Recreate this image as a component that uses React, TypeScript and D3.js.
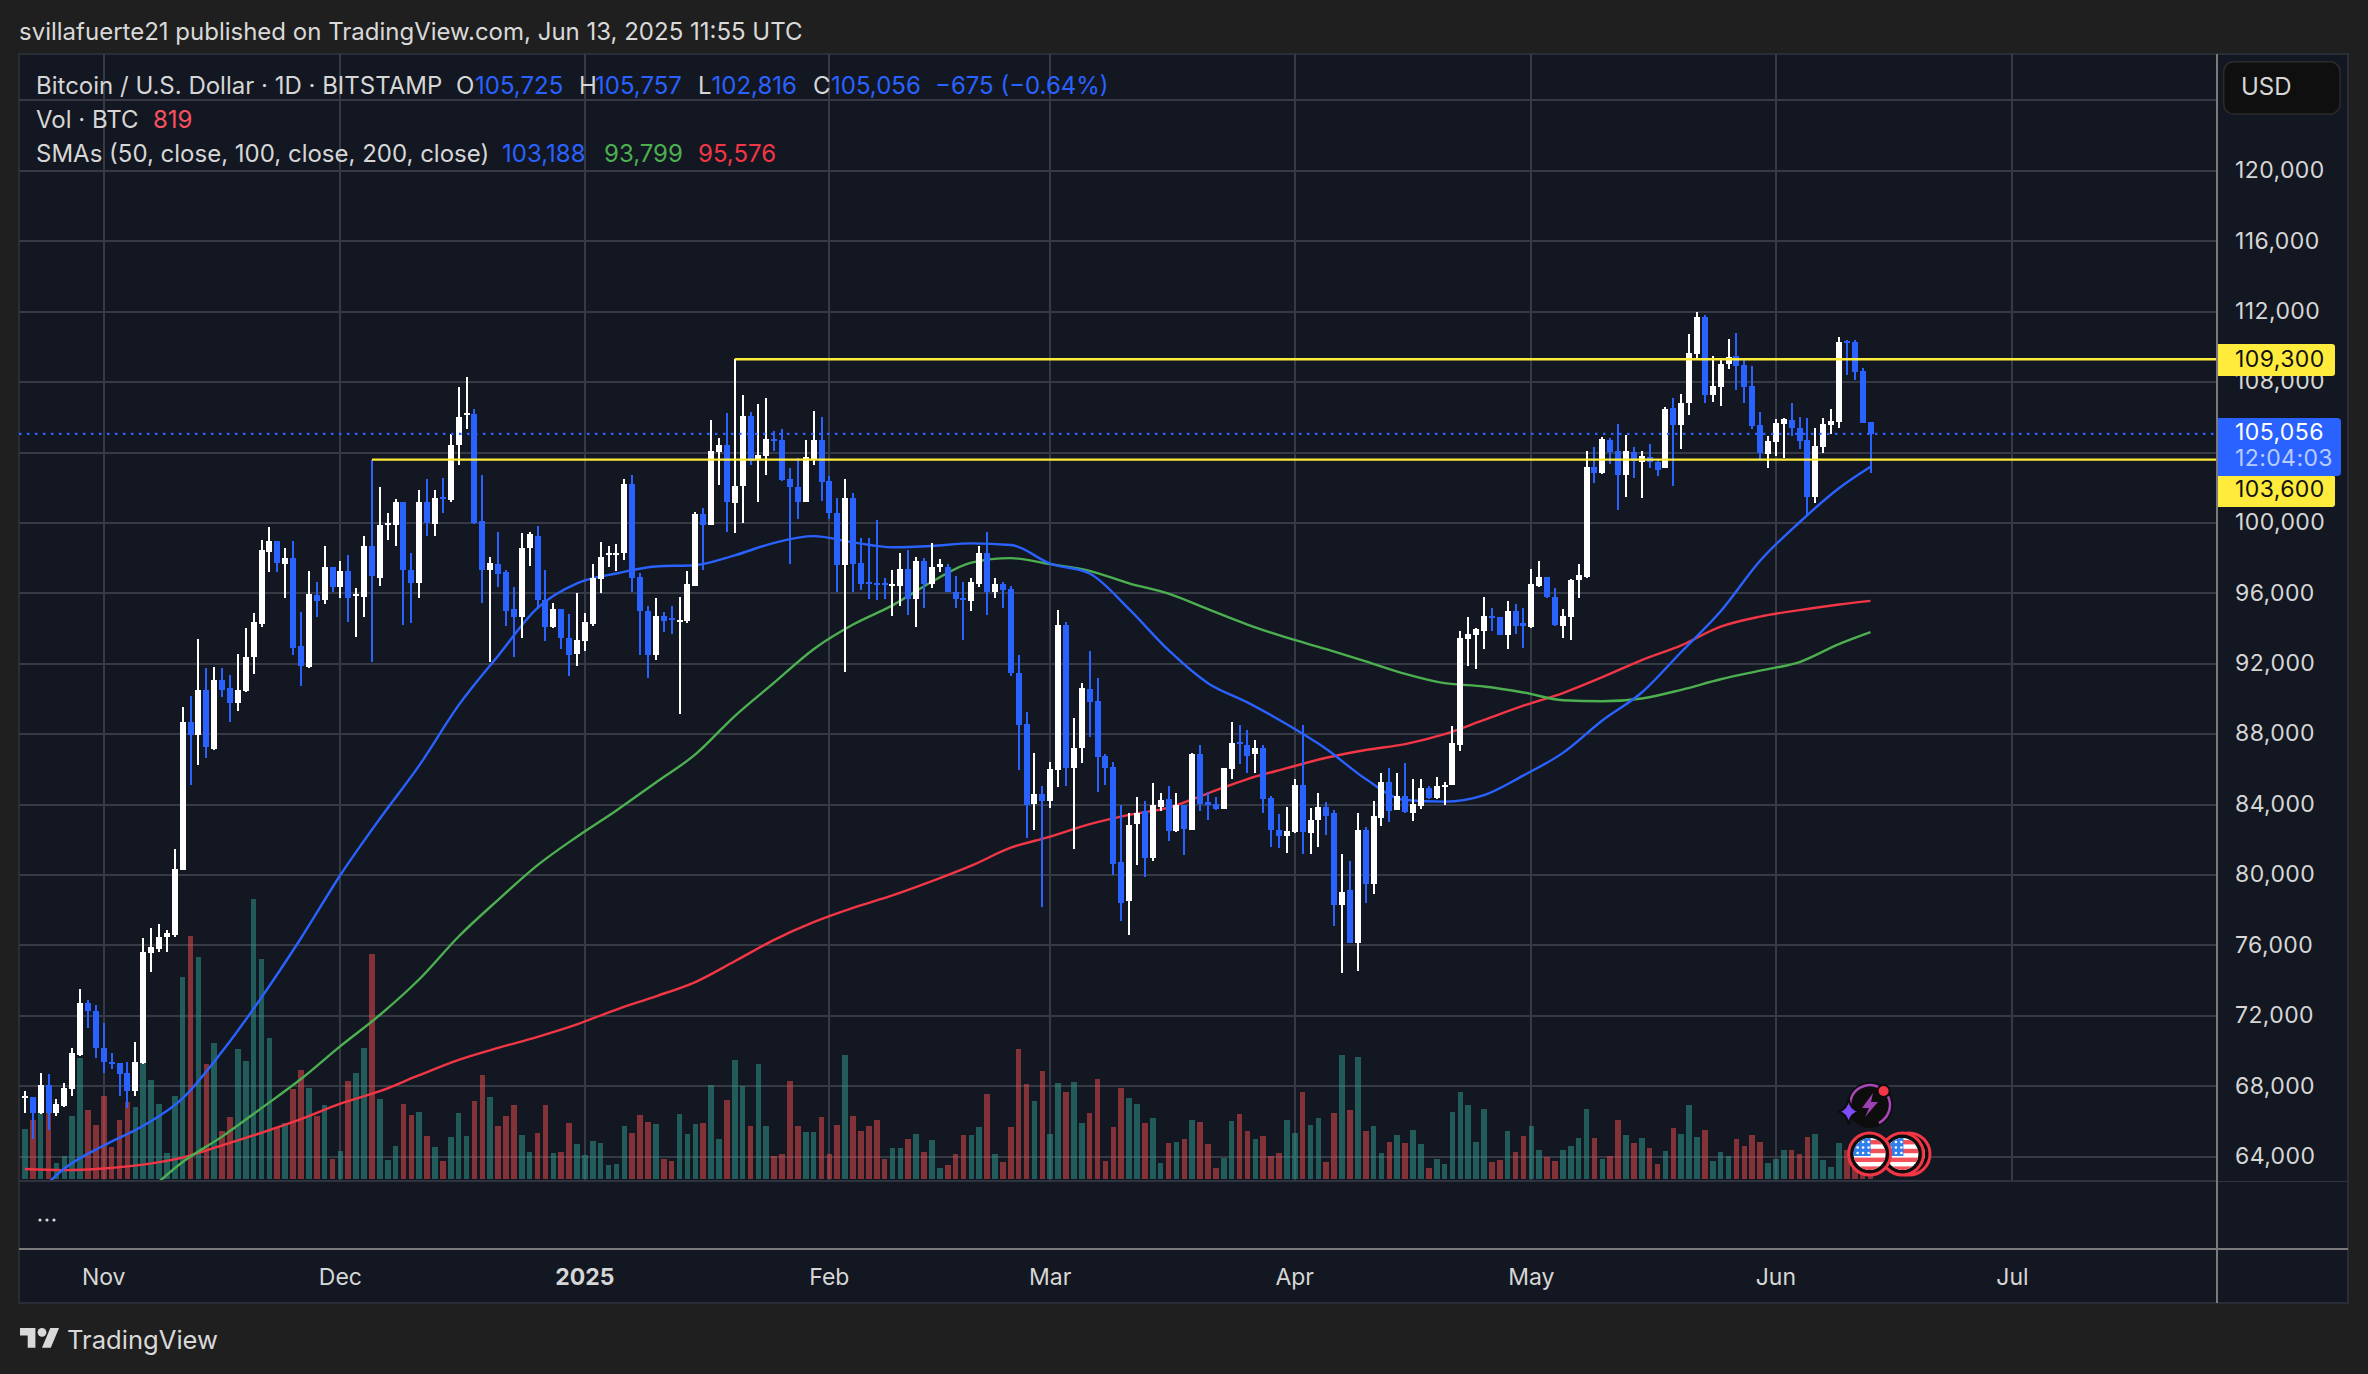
import React from 'react'
import * as d3 from 'd3'

// Daily BITSTAMP BTCUSD bars, first bar is Oct 22 2024, last is Jun 13 2025
const highs = [
  67754,67380,68750,68688,67286,68189,70184,73547,72893,72613,
  71585,69872,69311,69373,70495,76444,76974,77223,76880,81459,
  89559,90182,93421,91770,91833,91739,91366,92549,94013,94885,
  99059,99745,98966,98592,98966,94947,97284,96630,98686,97471,
  97813,98156,96287,99246,103576,102050,100555,101364,101178,98281,
  101894,102517,101894,102580,105072,107719,108280,106473,102704,98094,
  99464,97346,96381,99402,99464,99838,97315,95446,95103,94854,
  96038,94885,97689,98904,98686,98779,102486,102704,97159,95290,
  95727,94917,95290,95820,97284,100648,100835,105850,104822,106255,
  109300,107252,106318,106753,107096,105196,105352,103109,103701,104729,
  106349,106006,102673,101396,102486,101708,99122,99122,100150,96848,
  97315,98281,98437,98094,98032,98842,97938,97689,96972,96661,
  96848,98686,99464,96879,96630,96443,92487,89247,86942,85042,
  86444,95072,94387,88904,90898,92736,91209,86849,86412,83951,
  83547,84418,84201,85229,84637,85042,84668,83951,86942,87378,
  84731,84450,86070,88687,88500,88251,87690,87378,84513,83453,
  83858,85447,88500,83827,84668,84139,83703,81180,80775,83547,
  82706,84201,85821,86070,85789,86381,85447,85447,85073,85572,
  85260,88468,93857,94636,94013,95820,95197,94636,95571,95384,
  95166,97377,97845,96910,96287,95103,96817,97689,104075,104293,
  104885,104822,105632,104978,104293,104075,104511,103639,106567,107071,
  107298,110730,111981,111811,109479,109346,110446,110787,109308,108910,
  106293,104928,105895,105952,106805,106009,105952,105383,105952,106464,
  110559,110389,110389,108796,105757,
]
const lows = [
  66507,64982,66445,65511,66320,66819,67473,69716,71305,69623,
  68750,68969,67442,66757,67442,69249,74482,75603,75603,76506,
  80276,85136,86225,86630,87098,90088,88686,89341,90369,91428,
  94107,97190,97190,95758,92518,90711,91771,94636,95384,96069,
  95727,94356,93546,94636,92113,96443,99059,98717,94231,94293,
  95758,99277,99246,100586,101209,103296,105321,99963,95477,92082,
  96349,94169,92362,93452,97533,95103,93266,94013,92830,91303,
  91864,92705,94169,96007,97471,97253,97876,96100,92518,91179,
  92206,93795,93670,89123,94293,96443,97315,99869,102175,99464,
  99402,100025,103265,101178,102704,104075,102393,97689,100212,101178,
  103265,101271,100212,96100,91521,96100,96163,95664,95602,95664,
  94698,95259,94792,94075,95197,96287,97190,96069,95197,93328,
  94979,96381,94792,95727,95197,91303,85976,82083,82581,78158,
  83827,84980,85073,81460,86350,87814,84699,85136,79996,77379,
  76570,80557,79871,80774,83609,81958,82425,81117,82581,83609,
  83111,83671,83734,85478,86288,85821,85821,83516,81584,81522,
  81242,82394,81180,81180,81615,82300,77098,74420,76133,74575,
  78407,78906,82768,83017,83671,83546,83049,83734,84294,84326,
  83951,85104,87067,91895,91677,92861,93857,93639,92830,93702,
  92923,94044,96381,95758,94138,93484,93328,95727,96879,102268,
  102798,103327,100710,101458,102580,101396,103109,102642,103109,102103,
  104208,106123,109289,106805,106862,106635,108739,107545,106805,105327,
  103620,103127,103791,103677,104928,104189,100378,101117,103961,105042,
  105383,108398,108114,105668,102816,
]
const opens = [
  67380,67380,66507,68096,66507,66881,67847,69779,72707,72302,
  70153,69405,69311,68750,67753,69311,75572,75790,76506,76600,
  80307,88718,87939,90493,87160,91054,90618,89746,90431,92362,
  94262,98374,98966,97689,98000,92985,91833,95882,95602,97471,
  96381,97253,95851,95820,98717,96848,99869,99869,101178,97346,
  96567,101178,99963,101458,101302,104417,106162,106162,100087,97346,
  97689,97190,95103,94636,98561,99277,95633,94075,95103,93484,
  92549,93296,94262,96817,98156,98218,98281,102237,96910,94979,
  92487,94698,94574,94449,94449,96443,100492,99869,104012,104417,
  101115,102081,106099,103576,103825,104760,104698,102517,102019,101178,
  103639,104698,102361,100586,97596,101396,97751,96630,96567,96567,
  96412,96443,97408,95664,97813,96505,97502,97502,96069,95726,
  95539,96536,98281,96069,96505,96225,91459,88562,84045,84575,
  84201,85945,94231,86070,87191,90556,89870,86755,86132,80712,
  78532,82892,83640,80992,83890,84326,82488,83951,82581,86849,
  84139,84014,83734,86039,87534,87410,86880,87191,84357,82581,
  82238,82425,85136,82363,83111,83858,83516,78282,79123,76164,
  82550,79466,83235,85260,83671,84513,83546,83921,84917,84357,
  85011,85136,87410,93390,93639,93857,94730,94636,93639,94979,
  94293,94075,96443,96910,95820,94169,94636,96755,96941,103171,
  102860,104729,104075,102704,104043,103483,103763,103452,103109,106521,
  105554,106805,109592,111697,107260,107715,109024,109479,108967,107772,
  105554,103904,104587,105611,105839,105383,104701,101459,104303,105554,
  105725,110332,110275,108626,105725,
]
const closes = [
  67442,66507,68096,66507,66974,67878,69872,72707,72271,70153,
  69405,69249,68688,67722,69373,75603,75884,76506,76694,80369,
  88718,87939,90493,87254,91054,90493,89746,90493,92362,94356,
  98436,98966,97720,98000,92923,91864,95944,95539,97471,96349,
  97253,95758,95944,98717,96972,99869,99994,101178,97346,96567,
  101178,99994,101396,101364,104417,106037,106224,100025,97346,97720,
  97128,95010,94636,98561,99371,95633,94107,95103,93484,92518,
  93328,94356,96848,98094,98281,98312,102237,96879,95010,92487,
  94698,94449,94480,94512,96505,100492,99901,104075,104417,101178,
  102081,106099,103514,103888,104791,104666,102455,102019,101209,103732,
  104698,102299,100555,97596,101396,97689,96505,96536,96474,96474,
  96505,97408,95664,97813,96505,97471,97658,96069,95695,95633,
  96630,98281,96069,96505,96163,91490,88500,83983,84575,84232,
  86007,94231,86070,87191,90618,89808,86693,86101,80619,78438,
  82830,83516,80992,83951,84263,82488,83951,82643,86849,84045,
  83983,83734,86070,87472,87441,86787,87191,84326,82550,82238,
  82488,85136,82425,83111,83858,83359,78282,79061,76164,82550,
  79466,83329,85260,83609,84513,83578,84014,84917,84357,85042,
  85104,87472,93452,93671,93951,94698,94636,93639,94979,94169,
  94169,96505,96910,95789,94200,94698,96786,97035,103203,102860,
  104760,104012,102704,104075,103514,103794,103452,103016,106473,105554,
  106805,109649,111697,107260,107772,109024,109422,108910,107715,105497,
  103961,104644,105668,105895,105383,104644,101459,104360,105611,105781,
  110275,110218,108569,105668,105056,
]
// volume bars, relative units (the pane has no axis)
const volumes = [
  91,107,122,122,29,42,115,221,126,99,
  152,59,108,141,132,212,181,137,48,152,
  369,443,405,210,248,87,113,237,215,510,
  401,257,95,102,164,199,166,115,135,37,
  51,179,194,239,411,146,35,60,137,117,
  122,79,59,33,77,121,79,143,190,150,
  97,115,135,81,50,84,135,48,50,102,
  64,44,70,66,26,28,97,84,117,104,
  101,37,33,119,82,101,102,172,73,144,
  217,170,97,210,97,42,46,179,97,86,
  86,113,46,99,226,115,88,97,108,37,
  57,57,73,82,50,71,20,26,46,81,
  81,95,155,46,31,95,237,173,143,197,
  82,175,159,177,102,121,183,33,95,166,
  148,137,102,112,29,66,68,73,108,104,
  64,20,39,106,119,88,73,79,42,48,
  108,84,159,99,112,31,121,226,126,223,
  88,97,48,68,81,66,90,64,20,37,
  28,122,159,135,68,128,31,35,88,50,
  79,97,53,40,33,53,60,75,128,75,
  37,42,108,81,66,75,57,28,51,93,
  82,135,77,90,33,50,42,73,60,81,
  68,29,37,53,53,46,77,82,35,22,
  66,53,47,27,7,
]
// SMAs sampled every 5th bar, plus the last bar
const smaBars = [...d3.range(0, 231, 5), 234]
const sma50 = [
  61150,63330,64640,65760,67320,69970,73050,76410,80000,83200,
  86230,89650,92460,95170,96570,97130,97530,97600,98160,98870,
  99250,98900,98620,98690,98840,98750,97690,97130,95100,92770,
  90900,89810,88560,87160,85450,84260,84170,84540,85660,86940,
  88780,90370,92670,94980,97850,100040,101970,103188,
]
const sma100 = [
  null,null,null,61770,63700,65140,66760,68410,70280,72050,
  74080,76510,78590,80560,82180,83670,85260,86850,89030,90930,
  92830,94230,95320,96660,97750,98000,97660,97280,96570,95980,
  95100,94230,93480,92830,92140,91430,90900,90710,90370,89930,
  89870,90030,90520,91120,91610,92100,93120,93799,
]
const sma200 = [
  63300,63240,63330,63550,63950,64640,65360,66130,67010,67720,
  68630,69500,70180,70810,71520,72360,73110,73920,75100,76320,
  77320,78130,78840,79650,80530,81550,82180,82890,83420,83830,
  84640,85450,86070,86660,87100,87440,88000,88810,89620,90340,
  91240,92210,93050,94110,94680,95050,95370,95576,
]
const gridPrices = d3.range(64000, 124001, 4000)
// 104,000 sits fully behind the last price tag
const labelPrices = d3.range(64000, 120001, 4000).filter(p => p !== 104000)
const monthBars = [10, 40, 71, 102, 130, 161, 191, 222, 252]
const monthLabels = ['Nov', 'Dec', '2025', 'Feb', 'Mar', 'Apr', 'May', 'Jun', 'Jul']
const levelPrices = [109300, 103600]
const levelStartBars = [90, 44]
const lastPrice = 105056

const FONT = 'Inter, "Noto Sans", sans-serif'
const BG = '#131722'
const PAGE = '#1f1f1f'
const GRID = '#363a45'
const TEXT = '#d6d6d6'
const BLUE = '#2962ff'
const GREEN = '#4caf50'
const RED = '#f23645'
const YELLOW = '#ffeb3b'

const LEFT = 19
const TOP = 54
const AXIS_X = 2217
const RIGHT = 2348
const PANE_BOTTOM = 1180
const TIME_Y = 1249
const BOTTOM = 1303

const x = d3.scaleLinear().domain([0, 234]).range([24.9, 1870.5])
const y = d3.scaleLinear().domain([112000, 64000]).range([311.7, 1156.7])
const vy = d3.scaleLinear().domain([0, 510]).range([1179, 899.2])
const fmt = d3.format(',')

const smaLine = d3.line<number | null>()
  .defined(d => d !== null)
  .x((_, i) => x(smaBars[i]))
  .y(d => y(d as number))
  .curve(d3.curveMonotoneX)

function UsFlag({ cx, cy, id }: { cx: number; cy: number; id: string }) {
  const rows = d3.range(0, 7)
  return (
    <g>
      <circle cx={cx} cy={cy} r={21} fill="#0d0d0d" stroke={RED} strokeWidth={3} />
      <clipPath id={id}><circle cx={cx} cy={cy} r={16} /></clipPath>
      <g clipPath={`url(#${id})`}>
        <rect x={cx - 17} y={cy - 17} width={34} height={34} fill="#fff" />
        {rows.map(r => r % 2 === 0 && (
          <rect key={r} x={cx - 17} y={cy - 14 + r * 4.4} width={34} height={4.4} fill="#f4505a" />
        ))}
        <rect x={cx - 17} y={cy - 17} width={18} height={19} fill="#2f80ed" />
        {[0, 1, 2].map(r => [0, 1, 2].map(c => (
          <circle key={`${r}-${c}`} cx={cx - 12 + c * 5.5} cy={cy - 12 + r * 5.5} r={1.3} fill="#fff" />
        )))}
      </g>
    </g>
  )
}

export default function App() {
  return (
    <svg width={2368} height={1374} style={{ position: 'absolute', left: 0, top: 0, display: 'block' }} fontFamily={FONT}>
      <defs>
        <clipPath id="pane"><rect x={LEFT} y={TOP} width={AXIS_X - LEFT} height={PANE_BOTTOM - TOP} /></clipPath>
      </defs>
      <rect width={2368} height={1374} fill={PAGE} />
      <text x={19} y={40} fontSize={24} fill="#d9d9d9">svillafuerte21 published on TradingView.com, Jun 13, 2025 11:55 UTC</text>
      <rect x={LEFT} y={TOP} width={RIGHT - LEFT} height={BOTTOM - TOP} fill={BG} stroke="#2a2d35" strokeWidth={2} />

      {/* grid */}
      <g shapeRendering="crispEdges" stroke={GRID} strokeWidth={2}>
        {gridPrices.map(p => <line key={p} x1={LEFT} x2={AXIS_X} y1={y(p)} y2={y(p)} />)}
        {monthBars.map(b => <line key={b} x1={x(b)} x2={x(b)} y1={TOP} y2={PANE_BOTTOM} />)}
      </g>

      <g clipPath="url(#pane)">
        {/* volume */}
        <g shapeRendering="crispEdges" opacity={0.5}>
          {volumes.map((v, i) => (
            <rect key={i} x={x(i) - 2.8} width={5.6} y={vy(v)} height={vy(0) - vy(v)}
              fill={closes[i] >= opens[i] ? '#2fa192' : '#f34d4e'} />
          ))}
        </g>
        {/* moving averages */}
        <g fill="none" strokeWidth={2.4}>
          <path d={smaLine(sma200) ?? ''} stroke={RED} />
          <path d={smaLine(sma100) ?? ''} stroke={GREEN} />
          <path d={smaLine(sma50) ?? ''} stroke={BLUE} />
        </g>
        {/* candles */}
        <g shapeRendering="crispEdges">
          {highs.map((h, i) => {
            const up = closes[i] >= opens[i]
            const c = up ? '#ffffff' : BLUE
            const top = y(Math.max(opens[i], closes[i]))
            const bot = y(Math.min(opens[i], closes[i]))
            return (
              <g key={i} fill={c}>
                <rect x={x(i) - 1} width={2} y={y(h)} height={y(lows[i]) - y(h)} />
                <rect x={x(i) - 3} width={6} y={top} height={Math.max(bot - top, 2)} />
              </g>
            )
          })}
        </g>
      </g>

      {/* last price and drawn levels */}
      <line x1={LEFT} x2={AXIS_X} y1={y(lastPrice)} y2={y(lastPrice)} stroke={BLUE} strokeWidth={2.2} strokeDasharray="2.5 5.5" />
      {levelPrices.map((p, i) => (
        <line key={p} x1={x(levelStartBars[i])} x2={AXIS_X} y1={y(p)} y2={y(p)} stroke={YELLOW} strokeWidth={2.4} />
      ))}

      {/* event icons */}
      <g>
        <circle cx={1870} cy={1105} r={23} fill="#0d0d0d" />
        <circle cx={1870} cy={1105} r={20} fill="none" stroke="#ab47bc" strokeWidth={2.5} strokeDasharray="95 30" transform="rotate(150 1870 1105)" />
        <path d="M1873 1093 L1862 1108 L1869 1108 L1865 1117 L1878 1102 L1871 1102 Z" fill="#9c3fb0" />
        <circle cx={1883.6} cy={1091} r={7} fill="#0d0d0d" />
        <circle cx={1883.6} cy={1091} r={5} fill={RED} />
        <path d="M1848.7 1098 Q1850 1110 1860 1111.7 Q1850 1113 1848.7 1125 Q1847 1113 1838 1111.7 Q1847 1110 1848.7 1098 Z" fill="#7c4dff" stroke="#0d0d0d" strokeWidth={2} />
        <UsFlag cx={1909} cy={1154} id="flag3" />
        <UsFlag cx={1902.4} cy={1154} id="flag2" />
        <UsFlag cx={1869.6} cy={1154} id="flag1" />
      </g>

      {/* legend */}
      <g fontSize={24} fill={TEXT}>
        <text x={36} y={94}>Bitcoin / U.S. Dollar · 1D · BITSTAMP</text>
        <text x={456} y={94}>O</text>
        <text x={579} y={94}>H</text>
        <text x={698} y={94}>L</text>
        <text x={813} y={94}>C</text>
        <g fill={BLUE}>
          <text x={475} y={94}>105,725</text>
          <text x={595} y={94}>105,757</text>
          <text x={711.5} y={94}>102,816</text>
          <text x={831} y={94}>105,056</text>
          <text x={935} y={94}>−675 (−0.64%)</text>
        </g>
        <text x={36} y={128}>Vol · BTC</text>
        <text x={153} y={128} fill="#f7525f">819</text>
        <text x={36} y={162}>SMAs (50, close, 100, close, 200, close)</text>
        <text x={502} y={162} fill={BLUE}>103,188</text>
        <text x={604} y={162} fill={GREEN}>93,799</text>
        <text x={698} y={162} fill={RED}>95,576</text>
      </g>
      <g fill="#d9d9d9">
        {[0, 1, 2].map(i => <circle key={i} cx={40 + i * 7} cy={1220} r={1.6} />)}
      </g>

      {/* axis separators */}
      <g shapeRendering="crispEdges">
        <line x1={LEFT} x2={RIGHT} y1={1181} y2={1181} stroke="#2f3340" strokeWidth={2} />
        <line x1={LEFT} x2={RIGHT} y1={TIME_Y} y2={TIME_Y} stroke="#7a7a7a" strokeWidth={2} />
      </g>

      {/* price axis */}
      <rect x={AXIS_X + 1} y={TOP + 1} width={RIGHT - AXIS_X - 2} height={PANE_BOTTOM - TOP} fill={BG} />
      <line x1={AXIS_X} x2={AXIS_X} y1={TOP} y2={BOTTOM} stroke="#7a7a7a" strokeWidth={2} shapeRendering="crispEdges" />
      <g fontSize={23} fill={TEXT} letterSpacing={0.4}>
        {labelPrices.map(p => (
          <text key={p} x={2235} y={y(p) - 1} dy="0.36em">{fmt(p)}</text>
        ))}
      </g>
      <rect x={2223.7} y={61.7} width={116.3} height={52.3} rx={10} fill="#0f0f0f" stroke="#2b2b2b" strokeWidth={1.5} />
      <text x={2241} y={95} fontSize={24} fill={TEXT}>USD</text>

      <g>
        <path d="M2218 344 H2332 Q2335 344 2335 347 V373 Q2335 376 2332 376 H2218 Z" fill={YELLOW} />
        <text x={2235} y={359} dy="0.36em" fontSize={23} letterSpacing={0.4} fill="#111">{fmt(levelPrices[0])}</text>
        <path d="M2218 475 H2332 Q2335 475 2335 478 V504 Q2335 507 2332 507 H2218 Z" fill={YELLOW} />
        <text x={2235} y={489} dy="0.36em" fontSize={23} letterSpacing={0.4} fill="#111">{fmt(levelPrices[1])}</text>
        <path d="M2218 418 H2337 Q2341 418 2341 422 V472 Q2341 476 2337 476 H2218 Z" fill={BLUE} />
        <text x={2235} y={432} dy="0.36em" fontSize={23} letterSpacing={0.4} fill="#fff">{fmt(lastPrice)}</text>
        <text x={2235} y={458} dy="0.36em" fontSize={23} letterSpacing={0.4} fill="#b9cbff">12:04:03</text>
      </g>

      {/* time axis */}
      <g fontSize={23} fill={TEXT} textAnchor="middle">
        {monthBars.map((b, i) => (
          <text key={b} x={x(b)} y={1285} fontWeight={monthLabels[i] === '2025' ? 700 : 400}>{monthLabels[i]}</text>
        ))}
      </g>

      {/* footer logo */}
      <g transform="translate(20 1323.5) scale(1.1)" fill="#d9d9d9">
        <path d="M14 22H7V11H0V4h14v18zM28 22h-8l7.5-18h8L28 22z" />
        <circle cx={20} cy={8} r={4} />
      </g>
      <text x={67} y={1349} fontSize={25.6} fill="#d9d9d9">TradingView</text>
    </svg>
  )
}
